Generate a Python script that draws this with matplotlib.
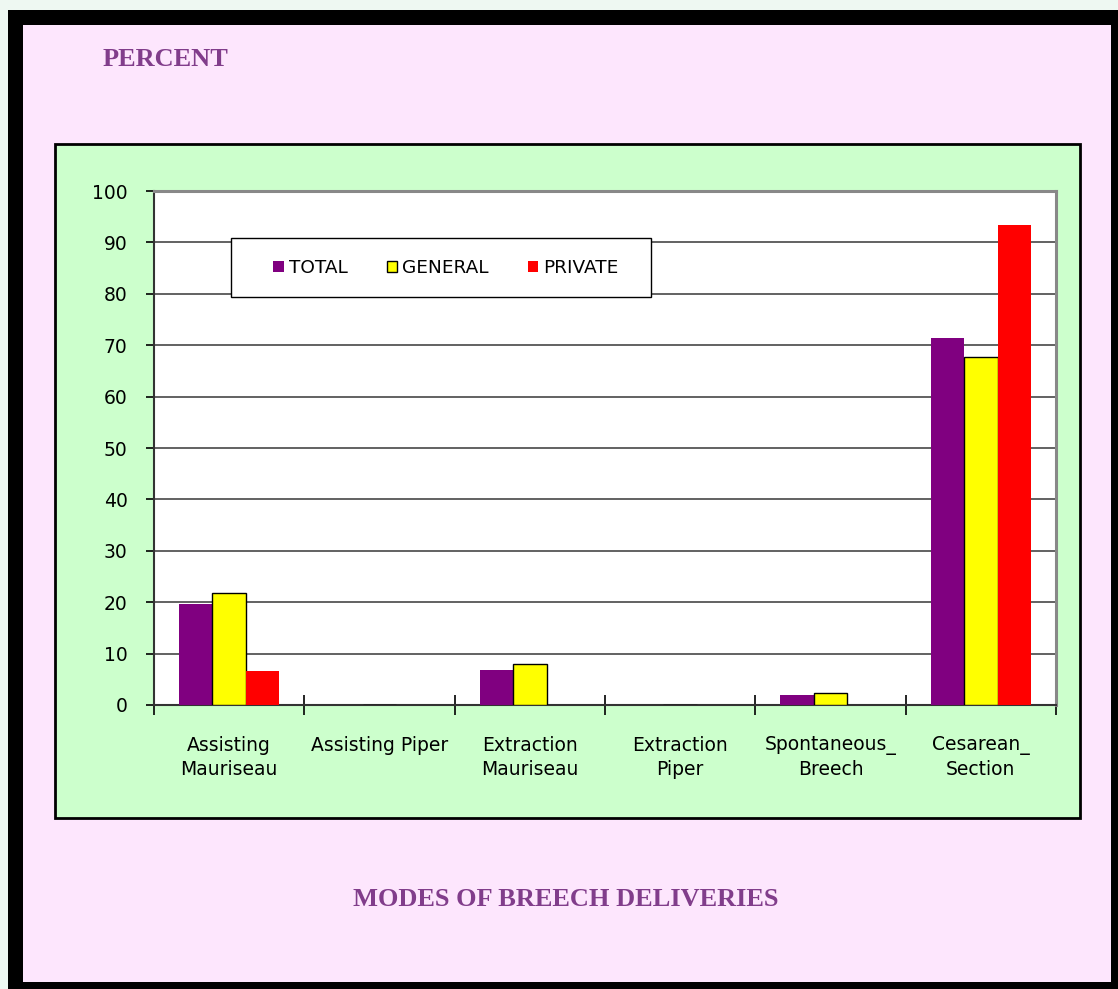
import numpy as np
import matplotlib.pyplot as plt
from matplotlib.patches import Rectangle, Patch

# Chart data
categories = ["Assisting\nMauriseau", "Assisting Piper", "Extraction\nMauriseau",
              "Extraction\nPiper", "Spontaneous_\nBreech", "Cesarean_\nSection"]
series_names = ["TOTAL", "GENERAL", "PRIVATE"]
total = [19.6, 0, 6.8, 0, 1.9, 71.4]
general = [21.7, 0, 8.0, 0, 2.3, 67.8]
private = [6.7, 0, 0, 0, 0, 93.3]
y_ticks = list(range(0, 101, 10))

W, H = 1118, 989
fig = plt.figure(figsize=(W / 100, H / 100), dpi=100, facecolor="#eef8f2")


def box(x0, y0, x1, y1, **kw):
    # rectangle given in pixel coords (origin top-left)
    fig.patches.append(Rectangle((x0 / W, 1 - y1 / H), (x1 - x0) / W, (y1 - y0) / H,
                                 transform=fig.transFigure, **kw))


# black frame, pink page, green chart panel (behind the axes)
box(8, 10, W, H, facecolor="black", edgecolor="none", zorder=-3)
box(23, 25, 1111, 982, facecolor="#fde6fd", edgecolor="none", zorder=-2)
box(55, 144, 1080, 818, facecolor="#ccffcc", edgecolor="black", linewidth=2, zorder=-1)

title_color = "#813d8b"
fig.text(103 / W, 1 - 59 / H, "PERCENT", color=title_color, fontsize=19,
         fontweight="bold", family="Liberation Serif", ha="left", va="center")
fig.text(566 / W, 1 - 899 / H, "MODES OF BREECH DELIVERIES", color=title_color,
         fontsize=19, fontweight="bold", family="Liberation Serif",
         ha="center", va="center")

ax = fig.add_axes([154 / W, 1 - 705 / H, (1056 - 154) / W, (705 - 191) / H])
ax.set_facecolor("white")

x = np.arange(len(categories))
bw = 0.222
colors = ["#800080", "#ffff00", "#ff0000"]
ax.bar(x - bw, total, bw, color=colors[0], zorder=3)
ax.bar(x, general, bw, color=colors[1], edgecolor="black", linewidth=1, zorder=3)
ax.bar(x + bw, private, bw, color=colors[2], zorder=3)

ax.set_xlim(-0.5, len(categories) - 0.5)
ax.set_ylim(0, 100)
ax.set_yticks(y_ticks)
ax.yaxis.grid(True, color="#555555", linewidth=1.3, zorder=1)
ax.set_axisbelow(True)

# category boundaries get the ticks, centres get the labels
ax.set_xticks(np.arange(len(categories) + 1) - 0.5)
ax.set_xticklabels([])
ax.set_xticks(x, minor=True)
ax.set_xticklabels(categories, minor=True, fontsize=13.5, linespacing=1.35)
ax.tick_params(axis="x", which="major", direction="inout", length=14, width=1.2, color="black")
ax.tick_params(axis="x", which="minor", length=0, pad=22)
ax.tick_params(axis="y", direction="out", length=6, width=1.2, pad=13, labelsize=13.5)

for s in ["left", "bottom"]:
    ax.spines[s].set_color("#333333")
    ax.spines[s].set_linewidth(1.5)
for s in ["top", "right"]:
    ax.spines[s].set_color("#888888")
    ax.spines[s].set_linewidth(2.2)

# legend box
box(231, 238, 651, 297, facecolor="white", edgecolor="black", linewidth=1, zorder=4)
handles = [Patch(facecolor=colors[0]),
           Patch(facecolor=colors[1], edgecolor="black", linewidth=1),
           Patch(facecolor=colors[2])]
fig.legend(handles, series_names, loc="center", ncol=3,
           bbox_to_anchor=(446 / W, 1 - 268 / H), frameon=False, fontsize=13.3,
           handlelength=0.55, handleheight=0.55, handletextpad=0.3,
           columnspacing=2.1)

fig.savefig("out.png", dpi=100, facecolor=fig.get_facecolor())
